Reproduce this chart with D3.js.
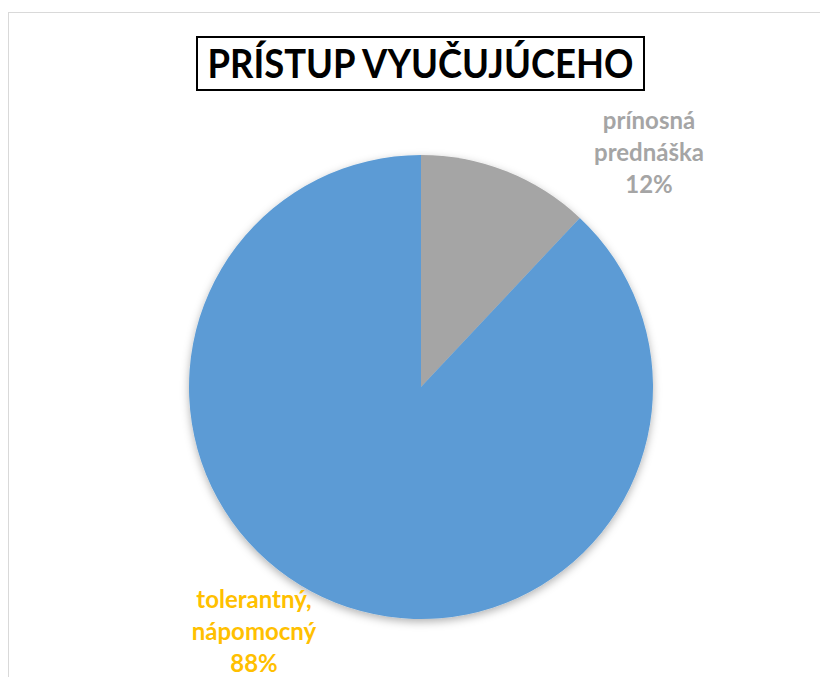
<!DOCTYPE html>
<html>
<head>
<meta charset="utf-8">
<script src="https://cdn.jsdelivr.net/npm/d3@7"></script>
<style>
  body { margin: 0; background: #fff; }
  svg { display: block; }
</style>
</head>
<body>
<svg id="canvas" width="820" height="677"></svg>
<script>
let categories = ["prínosná prednáška", "tolerantný, nápomocný"]
let labelLines = [["prínosná", "prednáška"], ["tolerantný,", "nápomocný"]]
let values = [12, 88]
let colors = ["#A5A5A5", "#5B9BD5"]
let labelColors = ["#A5A5A5", "#FFC000"]
let title = "PRÍSTUP VYUČUJÚCEHO"

let svg = d3.select("#canvas")
let font = "Lato, Calibri, 'Open Sans', sans-serif"

// chart area border (cut off at right and bottom)
svg.append("rect")
    .attr("x", 8.5).attr("y", 12.5)
    .attr("width", 900).attr("height", 800)
    .attr("fill", "#fff")
    .attr("stroke", "#d9d9d9")

// title with box
svg.append("rect")
    .attr("x", 197).attr("y", 37)
    .attr("width", 447).attr("height", 53)
    .attr("fill", "#fff")
    .attr("stroke", "#000")
    .attr("stroke-width", 2)

svg.append("text")
    .attr("x", 420.5).attr("y", 78)
    .attr("text-anchor", "middle")
    .attr("font-family", font)
    .attr("font-weight", "bold")
    .attr("font-size", 40)
    .attr("textLength", 426)
    .attr("lengthAdjust", "spacingAndGlyphs")
    .text(title)

// drop shadow
let defs = svg.append("defs")
let filter = defs.append("filter").attr("id", "shadow")
    .attr("x", "-20%").attr("y", "-20%").attr("width", "140%").attr("height", "140%")
filter.append("feDropShadow")
    .attr("dx", 0).attr("dy", 3).attr("stdDeviation", 4)
    .attr("flood-color", "#000").attr("flood-opacity", 0.3)

let cx = 421, cy = 387, r = 232

let pie = d3.pie().sort(null).value(d => d)
let arc = d3.arc().innerRadius(0).outerRadius(r)
let arcs = pie(values)

let g = svg.append("g").attr("transform", `translate(${cx},${cy})`)
g.append("g").attr("filter", "url(#shadow)")
    .selectAll("path")
    .data(arcs)
    .enter()
    .append("path")
    .attr("d", arc)
    .attr("fill", (d, i) => colors[i])

// data labels, placed outside the pie
let labelPos = [[649, 129], [254, 608]]
let lineH = 32

arcs.forEach((d, i) => {
    let lines = labelLines[i].concat([values[i] + "%"])
    let t = svg.append("text")
        .attr("text-anchor", "middle")
        .attr("font-family", font)
        .attr("font-weight", "bold")
        .attr("font-size", 24)
        .attr("fill", labelColors[i])
    lines.forEach((line, k) => {
        t.append("tspan")
            .attr("x", labelPos[i][0])
            .attr("y", labelPos[i][1] + k * lineH)
            .text(line)
    })
})
</script>
</body>
</html>
